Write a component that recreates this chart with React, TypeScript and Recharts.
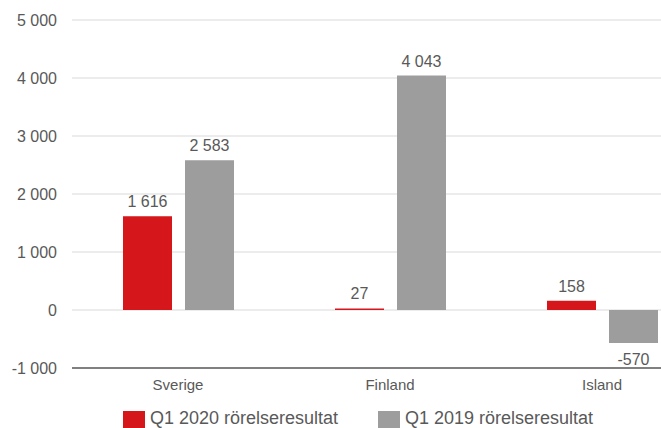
import React from "react"
import { Bar, BarChart, CartesianGrid, LabelList, Legend, XAxis, YAxis } from "recharts"

const countries = ["Sverige", "Finland", "Island"]
const q1_2020 = [1616, 27, 158]
const q1_2019 = [2583, 4043, -570]
const yTicks = [-1000, 0, 1000, 2000, 3000, 4000, 5000]

const RED = "#D5161B"
const GREY = "#9D9D9D"
const TEXT = "#595959"
const FONT = "'Liberation Sans', Arial, sans-serif"

const chartData = countries.map((name, i) => ({ name, q2020: q1_2020[i], q2019: q1_2019[i] }))

const fmt = (v: number) => {
  const s = Math.abs(v).toString().replace(/\B(?=(\d{3})+(?!\d))/g, " ")
  return (v < 0 ? "-" : "") + s
}

function BarLabel(props: any) {
  const { x, y, width, height, value } = props
  const top = Math.min(y, y + height)
  const bottom = Math.max(y, y + height)
  const cx = x + width / 2
  const ty = value >= 0 ? top - 9 : bottom + 22
  return (
    <text x={cx} y={ty} textAnchor="middle" fill={TEXT} fontSize={16} fontFamily={FONT}>
      {fmt(value)}
    </text>
  )
}

function LegendBox() {
  const items = [
    { label: "Q1 2020 rörelseresultat", color: RED, left: 123 },
    { label: "Q1 2019 rörelseresultat", color: GREY, left: 378 },
  ]
  return (
    <div style={{ position: "relative", height: 26, width: "100%" }}>
      {items.map((it) => (
        <React.Fragment key={it.label}>
          <div style={{ position: "absolute", left: it.left, top: 9, width: 22, height: 17, background: it.color }} />
          <span
            style={{
              position: "absolute",
              left: it.left + 27,
              top: 6,
              fontSize: 18,
              lineHeight: "20px",
              fontFamily: FONT,
              color: TEXT,
              whiteSpace: "nowrap",
            }}
          >
            {it.label}
          </span>
        </React.Fragment>
      ))}
    </div>
  )
}

export default function App() {
  return (
    <div style={{ position: "fixed", left: 0, top: 0, width: 661, height: 428, overflow: "hidden", background: "#fff" }}>
      <BarChart
        width={708}
        height={428}
        data={chartData}
        margin={{ top: 20, right: 0, bottom: 0, left: 0 }}
        barCategoryGap={51}
        barGap={13}
      >
        <CartesianGrid horizontal vertical={false} stroke="#D9D9D9" strokeWidth={1} />
        <XAxis
          dataKey="name"
          height={34}
          tickLine={false}
          tickSize={0}
          tickMargin={11}
          axisLine={{ stroke: "#808080", strokeWidth: 2 }}
          tick={{ fill: TEXT, fontSize: 15, fontFamily: FONT }}
        />
        <YAxis
          width={72}
          domain={[-1000, 5000]}
          ticks={yTicks}
          interval={0}
          axisLine={false}
          tickLine={false}
          tickSize={0}
          tickMargin={15}
          tickFormatter={fmt}
          tick={{ fill: TEXT, fontSize: 16, fontFamily: FONT }}
        />
        <Legend verticalAlign="bottom" height={26} content={() => <LegendBox />} />
        <Bar dataKey="q2020" fill={RED} isAnimationActive={false}>
          <LabelList dataKey="q2020" content={<BarLabel />} />
        </Bar>
        <Bar dataKey="q2019" fill={GREY} isAnimationActive={false}>
          <LabelList dataKey="q2019" content={<BarLabel />} />
        </Bar>
      </BarChart>
    </div>
  )
}
